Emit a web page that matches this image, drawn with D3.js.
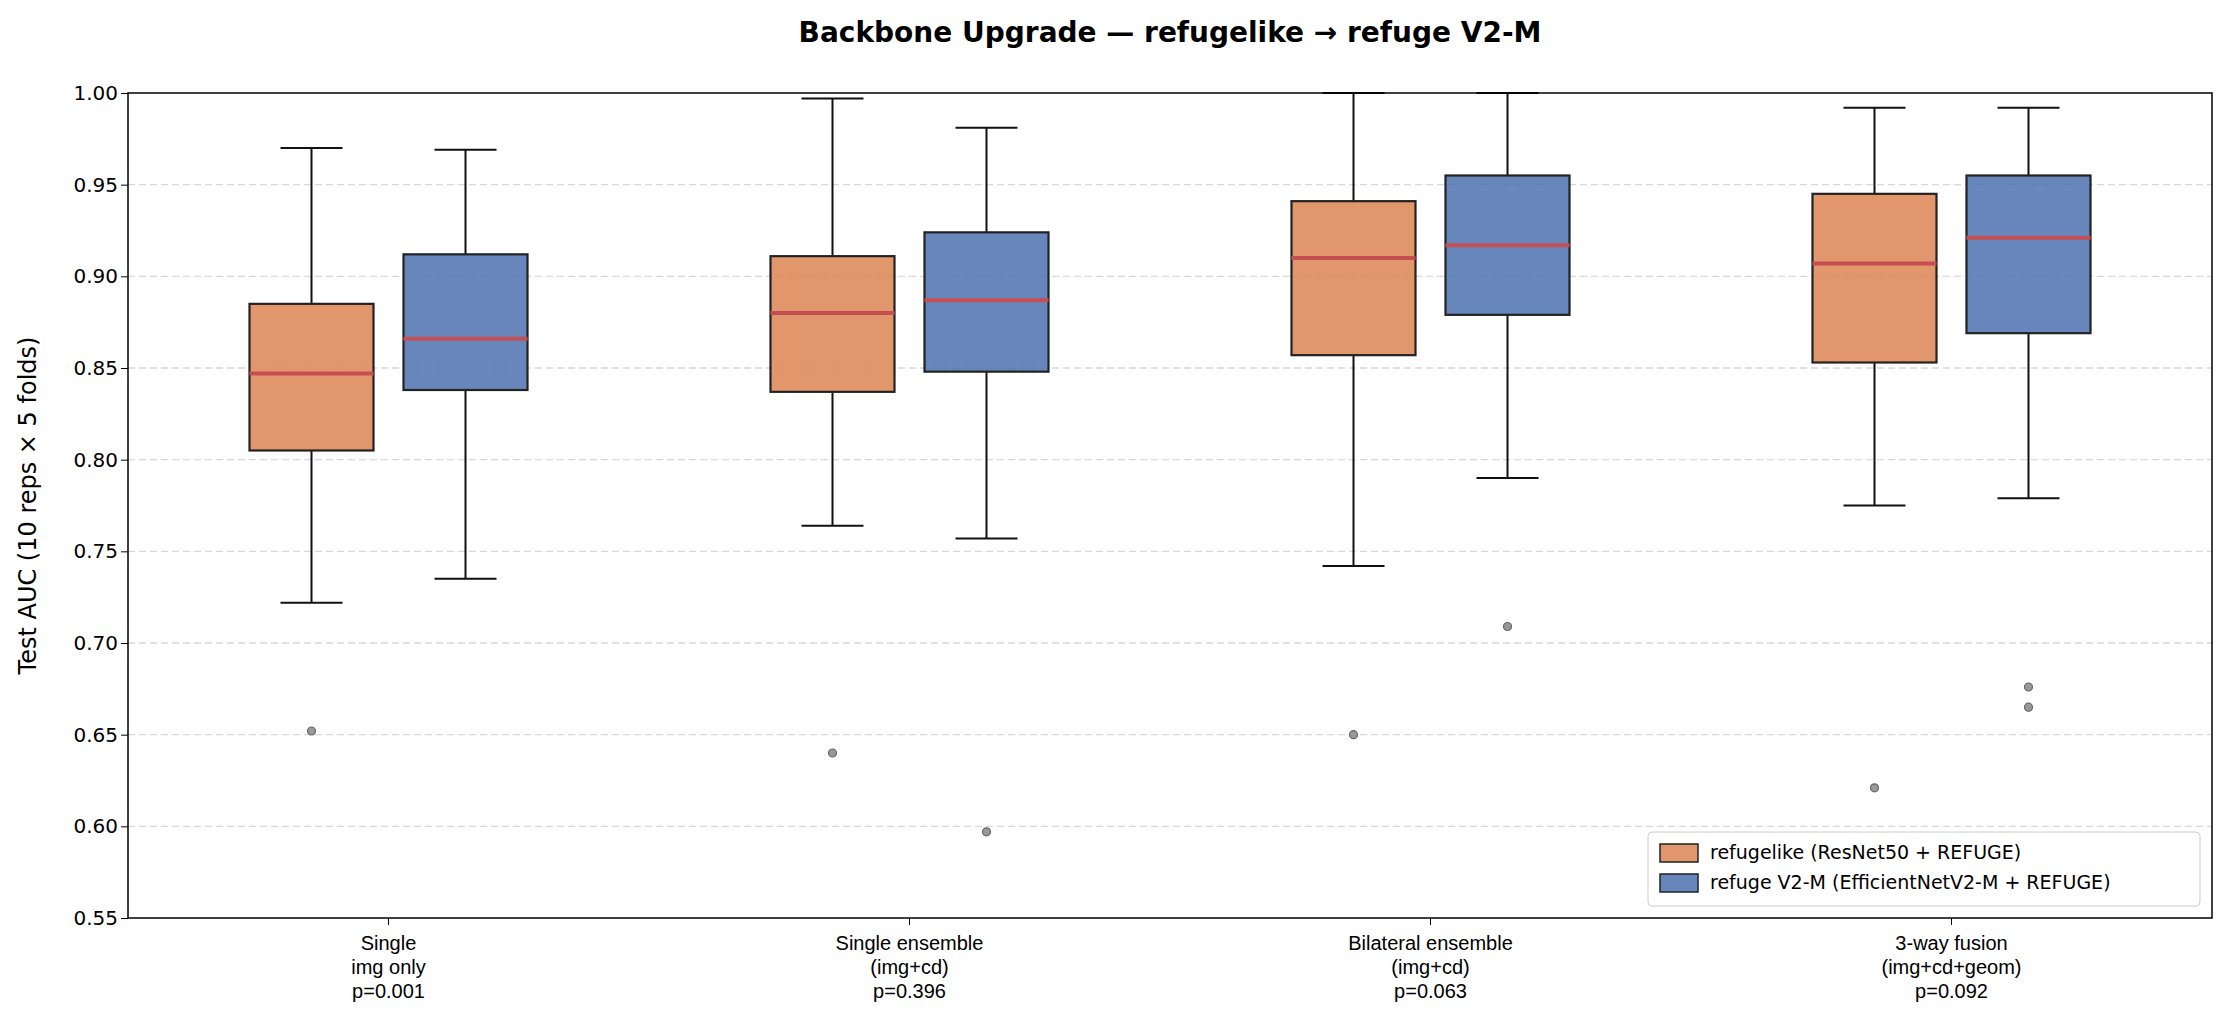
<!DOCTYPE html>
<html><head><meta charset="utf-8">
<script src="https://cdn.jsdelivr.net/npm/d3@7"></script>
<style>body{margin:0;background:#fff;font-family:"DejaVu Sans",sans-serif}</style>
</head><body><svg id="c" width="2233" height="1034"></svg>
<script>
const categories = ["Single\nimg only\np=0.001","Single ensemble\n(img+cd)\np=0.396","Bilateral ensemble\n(img+cd)\np=0.063","3-way fusion\n(img+cd+geom)\np=0.092"];
// [low whisker, q1, median, q3, high whisker]
const refugelike = [[0.722,0.805,0.847,0.885,0.970],[0.764,0.837,0.880,0.911,0.997],[0.742,0.857,0.910,0.941,1.0],[0.775,0.853,0.907,0.945,0.992]];
const refugeV2 = [[0.735,0.838,0.866,0.912,0.969],[0.757,0.848,0.887,0.924,0.981],[0.790,0.879,0.917,0.955,1.0],[0.779,0.869,0.921,0.955,0.992]];
const outliersA = [[0.652],[0.640],[0.650],[0.621]];
const outliersB = [[],[0.597],[0.709],[0.676,0.665]];
const yTicks = [0.55,0.60,0.65,0.70,0.75,0.80,0.85,0.90,0.95,1.00];
const seriesNames = ["refugelike (ResNet50 + REFUGE)","refuge V2-M (EfficientNetV2-M + REFUGE)"];
const colors = ["#dd8452","#4c72b0"];

const svg = d3.select("#c");
const L=128,R=2212,T=93,B=918;
const y = d3.scaleLinear().domain([0.55,1.0]).range([B,T]);
const x = d3.scaleBand().domain(d3.range(4)).range([L,R]).paddingInner(0).paddingOuter(0);
const off=77, bw=124;

svg.append("text").attr("x",(L+R)/2).attr("y",42).attr("text-anchor","middle")
  .attr("font-size",28).attr("font-weight","bold").text("Backbone Upgrade — refugelike → refuge V2-M");

svg.append("g").selectAll("line").data(yTicks.slice(1,-1)).enter().append("line")
  .attr("x1",L).attr("x2",R).attr("y1",d=>y(d)).attr("y2",d=>y(d))
  .attr("stroke","#d8d8d8").attr("stroke-dasharray","7,4").attr("stroke-width",1.3);

const ya = svg.append("g").attr("transform",`translate(${L},0)`)
  .call(d3.axisLeft(y).tickValues(yTicks).tickFormat(d3.format(".2f")).tickSize(7));
ya.selectAll("text").attr("font-size",20).attr("font-family","DejaVu Sans").attr("fill","#000");
ya.select(".domain").remove();

const xa = svg.append("g").attr("transform",`translate(0,${B})`)
  .call(d3.axisBottom(x).tickSize(7).tickFormat(""));
xa.select(".domain").remove();
xa.selectAll(".tick").each(function(d){
  const t=d3.select(this).append("text").attr("y",32).attr("text-anchor","middle")
    .attr("font-size",20).attr("fill","#000");
  categories[d].split("\n").forEach((s,i)=>t.append("tspan").attr("x",0).attr("dy",i?24:0).text(s));
});

svg.append("text").attr("transform",`translate(36,${(T+B)/2}) rotate(-90)`).attr("text-anchor","middle")
  .attr("font-size",24).text("Test AUC (10 reps × 5 folds)");

function drawBoxes(data,outs,dx,color){
  data.forEach((d,i)=>{
    const cx=x(i)+x.bandwidth()/2+dx;
    const g=svg.append("g");
    const capW=bw/2;
    g.append("line").attr("x1",cx).attr("x2",cx).attr("y1",y(d[0])).attr("y2",y(d[1])).attr("stroke","#111").attr("stroke-width",2);
    g.append("line").attr("x1",cx).attr("x2",cx).attr("y1",y(d[3])).attr("y2",y(d[4])).attr("stroke","#111").attr("stroke-width",2);
    [d[0],d[4]].forEach(v=>g.append("line").attr("x1",cx-capW/2).attr("x2",cx+capW/2).attr("y1",y(v)).attr("y2",y(v)).attr("stroke","#111").attr("stroke-width",2));
    g.append("rect").attr("x",cx-bw/2).attr("width",bw).attr("y",y(d[3])).attr("height",y(d[1])-y(d[3]))
      .attr("fill",color).attr("fill-opacity",0.85).attr("stroke","#222").attr("stroke-width",2.2);
    g.append("line").attr("x1",cx-bw/2).attr("x2",cx+bw/2).attr("y1",y(d[2])).attr("y2",y(d[2])).attr("stroke","#c44e52").attr("stroke-width",4);
    outs[i].forEach(v=>g.append("circle").attr("cx",cx).attr("cy",y(v)).attr("r",4)
      .attr("fill","#999").attr("stroke","#666").attr("stroke-width",1.2));
  });
}
drawBoxes(refugelike,outliersA,-off,colors[0]);
drawBoxes(refugeV2,outliersB,off,colors[1]);

svg.append("rect").attr("x",L).attr("y",T).attr("width",R-L).attr("height",B-T).attr("fill","none").attr("stroke","#000").attr("stroke-width",1.5);

const lg=svg.append("g").attr("transform","translate(1648,832)");
lg.append("rect").attr("width",552).attr("height",74).attr("rx",4).attr("fill","#fff").attr("fill-opacity",0.85).attr("stroke","#ccc");
seriesNames.forEach((n,i)=>{
  lg.append("rect").attr("x",12).attr("y",12+i*30).attr("width",38).attr("height",18).attr("fill",colors[i]).attr("fill-opacity",0.85).attr("stroke","#222").attr("stroke-width",1.5);
  lg.append("text").attr("x",62).attr("y",27+i*30).attr("font-size",19).text(n);
});
</script></body></html>
